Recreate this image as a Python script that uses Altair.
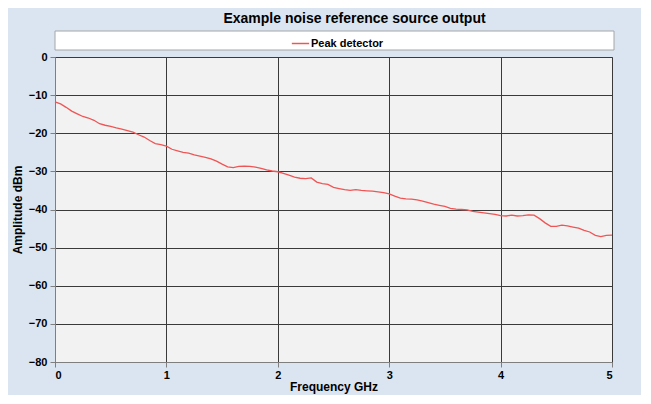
import altair as alt
import pandas as pd

freq_ghz = [0.00, 0.05, 0.10, 0.15, 0.20, 0.25, 0.30, 0.35, 0.40, 0.45,
            0.50, 0.55, 0.60, 0.65, 0.70, 0.75, 0.80, 0.85, 0.90, 0.95,
            1.00, 1.05, 1.10, 1.15, 1.20, 1.25, 1.30, 1.35, 1.40, 1.45,
            1.50, 1.55, 1.60, 1.65, 1.70, 1.75, 1.80, 1.85, 1.90, 1.95,
            2.00, 2.05, 2.10, 2.15, 2.20, 2.25, 2.30, 2.35, 2.40, 2.45,
            2.50, 2.55, 2.60, 2.65, 2.70, 2.75, 2.80, 2.85, 2.90, 2.95,
            3.00, 3.05, 3.10, 3.15, 3.20, 3.25, 3.30, 3.35, 3.40, 3.45,
            3.50, 3.55, 3.60, 3.65, 3.70, 3.75, 3.80, 3.85, 3.90, 3.95,
            4.00, 4.05, 4.10, 4.15, 4.20, 4.25, 4.30, 4.35, 4.40, 4.45,
            4.50, 4.55, 4.60, 4.65, 4.70, 4.75, 4.80, 4.85, 4.90, 4.95,
            5.00]
amplitude_dbm = [-11.8, -12.3, -13.2, -14.2, -14.9, -15.6, -16.0, -16.6, -17.5, -17.9,
                 -18.2, -18.6, -18.9, -19.3, -19.7, -20.4, -21.0, -21.9, -22.7, -23.0,
                 -23.4, -24.2, -24.6, -25.0, -25.2, -25.7, -26.0, -26.3, -26.7, -27.3,
                 -28.1, -28.8, -29.0, -28.7, -28.6, -28.7, -28.9, -29.2, -29.6, -29.9,
                 -30.1, -30.5, -31.0, -31.5, -31.8, -31.9, -31.7, -32.8, -33.2, -33.4,
                 -34.2, -34.5, -34.8, -35.0, -34.8, -35.0, -35.1, -35.2, -35.4, -35.6,
                 -35.9, -36.5, -37.0, -37.2, -37.3, -37.5, -37.8, -38.2, -38.6, -38.9,
                 -39.2, -39.7, -39.9, -40.0, -40.1, -40.5, -40.7, -40.9, -41.1, -41.3,
                 -41.6, -41.7, -41.5, -41.7, -41.6, -41.4, -41.5, -42.4, -43.5, -44.4,
                 -44.4, -44.1, -44.3, -44.6, -44.9, -45.5, -45.9, -46.8, -47.1, -46.8,
                 -46.7]
series_name = "Peak detector"
x_ticks = [0, 1, 2, 3, 4, 5]
y_ticks = [-80, -70, -60, -50, -40, -30, -20, -10, 0]

df = pd.DataFrame({"Frequency": freq_ghz, "Amplitude": amplitude_dbm,
                   "Series": [series_name] * len(freq_ghz)})

W, H = 557, 305
FONT = "Liberation Sans"

legend_box = alt.Chart(pd.DataFrame({"k": [0]})).mark_rect(
    fill="white", stroke="#a6a6a6", strokeWidth=1
).encode(x=alt.value(0), x2=alt.value(559), y=alt.value(-26), y2=alt.value(-7))

line = alt.Chart(df).mark_line(strokeWidth=1.3).encode(
    x=alt.X("Frequency:Q",
            scale=alt.Scale(domain=[0, 5], nice=False),
            axis=alt.Axis(title="Frequency GHz", values=x_ticks, format="d")),
    y=alt.Y("Amplitude:Q",
            scale=alt.Scale(domain=[-80, 0], nice=False),
            axis=alt.Axis(title="Amplitude dBm", values=y_ticks, format="d")),
    color=alt.Color("Series:N",
                    scale=alt.Scale(domain=[series_name], range=["#f05555"]),
                    legend=alt.Legend(title=None, orient="none", legendX=236, legendY=-23,
                                      symbolType="stroke", symbolSize=300,
                                      symbolStrokeWidth=1.5, labelOffset=1,
                                      labelFont=FONT, labelFontSize=11,
                                      labelFontWeight="bold", labelColor="#000000")),
)

chart = alt.layer(legend_box, line).properties(
    width=W, height=H,
    title=alt.TitleParams(text="Example noise reference source output",
                          font=FONT, fontSize=14, fontWeight="bold", color="#000000",
                          anchor="middle", dx=21, offset=5),
    background="#dbe5f1",
    padding={"left": 47, "top": 49, "right": 29, "bottom": 33},
    autosize="none",
).configure_view(
    fill="#f2f2f2", stroke="#7f7f7f", strokeWidth=1
).configure_axis(
    labelFont=FONT, labelFontSize=11, labelFontWeight="bold", labelColor="#000000",
    titleFont=FONT, titleFontSize=12, titleFontWeight="bold", titleColor="#000000",
    grid=True, gridColor="#3a3a3a", gridWidth=1, gridOpacity=1,
    domainColor="#7f7f7f", tickColor="#7f7f7f", tickSize=5,
).configure_axisX(
    labelPadding=2, titlePadding=1
).configure_axisY(
    labelPadding=3, titlePadding=4
)

chart.save("out.html", embed_options={"renderer": "svg", "actions": False})
